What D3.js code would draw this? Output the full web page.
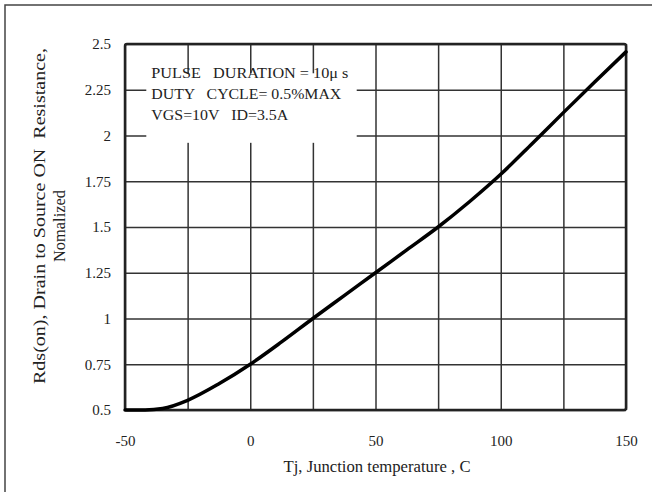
<!DOCTYPE html>
<html>
<head>
<meta charset="utf-8">
<script src="https://cdn.jsdelivr.net/npm/d3@7"></script>
<style>
  body { margin: 0; background: #fff; }
  svg { display: block; }
  text { font-family: "Liberation Serif", "DejaVu Serif", serif; fill: #222; }
</style>
</head>
<body>
<svg id="chart" width="652" height="492"></svg>
<script>
// Tj (C) vs normalized Rds(on)
const temps = [-50, -42, -35, -25, -12.5, 0, 12.5, 25, 37.5, 50, 62.5, 75, 87.5, 100, 112.5, 125, 137.5, 150];
const rdsOn = [0.5, 0.5, 0.508, 0.553, 0.643, 0.75, 0.872, 1.0, 1.125, 1.25, 1.375, 1.5, 1.638, 1.788, 1.955, 2.125, 2.292, 2.457];

const xTicks = [-50, 0, 50, 100, 150];
const xGrid = [-50, -25, 0, 25, 50, 75, 100, 125, 150];
const yTicks = [0.5, 0.75, 1, 1.25, 1.5, 1.75, 2, 2.25, 2.5];
const yTickLabels = ['0.5', '0.75', '1', '1.25', '1.5', '1.75', '2', '2.25', '2.5'];

const noteLines = ['PULSE   DURATION = 10\u03bc s', 'DUTY   CYCLE= 0.5%MAX', 'VGS=10V   ID=3.5A'];
const noteWidths = [197, 190, 137];
const xTitle = 'Tj, Junction temperature , C';
const yTitle = ['Rds(on), Drain to Source ON  Resistance,', 'Nomalized'];

const svg = d3.select('#chart');
const margin = {top: 44, right: 26, bottom: 82, left: 125};
const width = 652, height = 492;

const x = d3.scaleLinear().domain([-50, 150]).range([margin.left, width - margin.right]);
const y = d3.scaleLinear().domain([0.5, 2.5]).range([height - margin.bottom, margin.top]);

// outer frame (only top and left edges show)
svg.append('path')
  .attr('d', 'M5,492 V5 H652')
  .attr('fill', 'none')
  .attr('stroke', '#444')
  .attr('stroke-width', 1.5);

// grid lines
svg.append('g')
  .attr('class', 'x grid')
  .attr('transform', `translate(0,${y(0.5)})`)
  .call(d3.axisBottom(x).tickValues(xGrid).tickSize(-(y(0.5) - y(2.5))).tickFormat(''))
  .call(g => g.select('.domain').remove())
  .call(g => g.selectAll('line').attr('stroke', '#333').attr('stroke-width', 1.5));

svg.append('g')
  .attr('class', 'y grid')
  .attr('transform', `translate(${x(-50)},0)`)
  .call(d3.axisLeft(y).tickValues(yTicks).tickSize(-(x(150) - x(-50))).tickFormat(''))
  .call(g => g.select('.domain').remove())
  .call(g => g.selectAll('line').attr('stroke', '#333').attr('stroke-width', 1.5));

// white box behind the test conditions
svg.append('rect')
  .attr('x', x(-41.5)).attr('y', y(2.34))
  .attr('width', x(42.5) - x(-41.5)).attr('height', y(1.96) - y(2.34))
  .attr('fill', '#fff');

// plot border
svg.append('rect')
  .attr('x', x(-50)).attr('y', y(2.5))
  .attr('width', x(150) - x(-50)).attr('height', y(0.5) - y(2.5))
  .attr('rx', 2)
  .attr('fill', 'none')
  .attr('stroke', '#222')
  .attr('stroke-width', 2.5);

// tick labels
svg.append('g')
  .attr('class', 'x axis')
  .attr('transform', `translate(0,${y(0.5)})`)
  .call(d3.axisBottom(x).tickValues(xTicks).tickSize(0).tickPadding(25).tickFormat(d => String(d)))
  .call(g => g.select('.domain').remove())
  .call(g => g.selectAll('text').attr('font-size', 15).style('font-family', '"Liberation Serif", serif').attr('fill', '#222'));

svg.append('g')
  .attr('class', 'y axis')
  .attr('transform', `translate(${x(-50)},0)`)
  .call(d3.axisLeft(y).tickValues(yTicks).tickSize(0).tickPadding(14).tickFormat((d, i) => yTickLabels[i]))
  .call(g => g.select('.domain').remove())
  .call(g => g.selectAll('text').attr('font-size', 15).style('font-family', '"Liberation Serif", serif').attr('fill', '#222'));

// the curve
const line = d3.line()
  .x((d, i) => x(temps[i]))
  .y(d => y(d))
  .curve(d3.curveMonotoneX);

svg.append('path')
  .datum(rdsOn)
  .attr('d', line)
  .attr('fill', 'none')
  .attr('stroke', '#000')
  .attr('stroke-width', 3.5)
  .attr('stroke-linecap', 'round');

// test conditions text
svg.append('g')
  .selectAll('text')
  .data(noteLines)
  .join('text')
  .attr('x', x(-39.5))
  .attr('y', (d, i) => 78 + i * 21)
  .attr('font-size', 15)
  .attr('textLength', (d, i) => noteWidths[i])
  .attr('lengthAdjust', 'spacingAndGlyphs')
  .style('white-space', 'pre')
  .text(d => d);

// axis titles
svg.append('text')
  .attr('x', 377)
  .attr('y', 472)
  .attr('text-anchor', 'middle')
  .attr('font-size', 16.5)
  .attr('textLength', 187)
  .attr('lengthAdjust', 'spacingAndGlyphs')
  .text(xTitle);

svg.append('g')
  .selectAll('text')
  .data(yTitle)
  .join('text')
  .attr('transform', (d, i) => `translate(${45 + i * 20},${i ? 226 : 216}) rotate(-90)`)
  .attr('text-anchor', 'middle')
  .attr('font-size', 17)
  .attr('textLength', (d, i) => i ? 72 : 336)
  .attr('lengthAdjust', 'spacingAndGlyphs')
  .style('white-space', 'pre')
  .text(d => d);
</script>
</body>
</html>
